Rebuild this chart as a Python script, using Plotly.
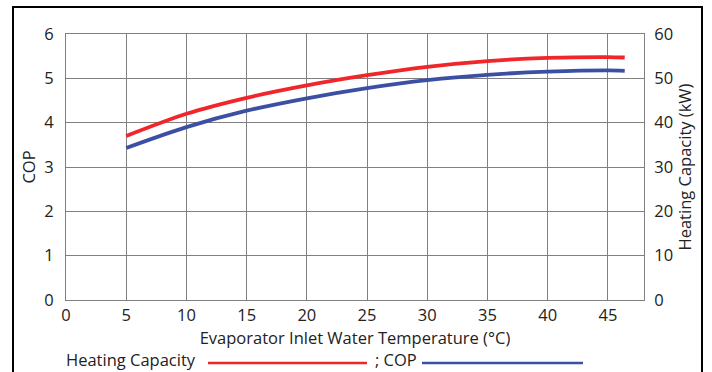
import plotly.graph_objects as go

temps = [5, 10, 15, 20, 25, 30, 35, 40, 45, 46.4]
heating_kw = [37.0, 42.0, 45.6, 48.4, 50.7, 52.6, 53.9, 54.6, 54.8, 54.7]
cop = [3.43, 3.90, 4.27, 4.55, 4.78, 4.96, 5.08, 5.15, 5.18, 5.17]

x_ticks = [0, 5, 10, 15, 20, 25, 30, 35, 40, 45]
cop_ticks = [0, 1, 2, 3, 4, 5, 6]
kw_ticks = [0, 10, 20, 30, 40, 50, 60]

RED = "#F0262B"
BLUE = "#3C50A3"
GRID = "#808080"
FONT = "Open Sans"

W, H = 712, 372
L, R, T, B = 66, 644, 34, 300
pw, ph = R - L, B - T

def px(x):
    return (x - L) / pw

def py(y):
    return (B - y) / ph

fig = go.Figure()
fig.add_trace(go.Scatter(x=temps, y=heating_kw, mode="lines", yaxis="y2",
                         line=dict(color=RED, width=3.8, shape="spline", smoothing=0.8),
                         name="Heating Capacity", showlegend=False))
fig.add_trace(go.Scatter(x=temps, y=cop, mode="lines",
                         line=dict(color=BLUE, width=3.8, shape="spline", smoothing=0.8),
                         name="COP", showlegend=False))

axis_font = dict(family=FONT, size=16.5, color="#222")
fig.update_layout(
    width=W, height=H,
    margin=dict(l=L, r=W - R, t=T, b=H - B),
    paper_bgcolor="white", plot_bgcolor="white",
    font=dict(family=FONT, size=16.5, color="#222"),
    xaxis=dict(range=[0, 48], tickvals=x_ticks, ticktext=[str(v) for v in x_ticks],
               showgrid=True, gridcolor=GRID, gridwidth=1, zeroline=False,
               showline=True, linecolor=GRID, linewidth=1, mirror=True,
               ticks="", tickfont=axis_font,
               title=dict(text="Evaporator Inlet Water Temperature (°C)", font=axis_font, standoff=0)),
    yaxis=dict(range=[0, 6], tickvals=cop_ticks, showgrid=True, gridcolor=GRID, gridwidth=1,
               zeroline=False, showline=True, linecolor=GRID, linewidth=1,
               ticks="", tickfont=axis_font, ticklabelstandoff=8,
               title=dict(text="COP", font=axis_font, standoff=4)),
    yaxis2=dict(range=[0, 60], tickvals=kw_ticks, overlaying="y", side="right",
                showgrid=False, zeroline=False, showline=True, linecolor=GRID, linewidth=1,
                ticks="", tickfont=axis_font, ticklabelstandoff=6,
                title=dict(text="Heating Capacity (kW)", font=axis_font, standoff=0)),
)

# legend row (drawn manually)
leg_y = py(360)
line_y = py(363)
fig.add_annotation(x=px(64), y=leg_y, xref="paper", yref="paper", text="Heating Capacity",
                   showarrow=False, xanchor="left", yanchor="middle", font=axis_font)
fig.add_shape(type="line", xref="paper", yref="paper", x0=px(208), x1=px(367),
              y0=line_y, y1=line_y, line=dict(color=RED, width=2.5))
fig.add_annotation(x=px(373), y=leg_y, xref="paper", yref="paper", text="; COP",
                   showarrow=False, xanchor="left", yanchor="middle", font=axis_font)
fig.add_shape(type="line", xref="paper", yref="paper", x0=px(422), x1=px(583),
              y0=line_y, y1=line_y, line=dict(color=BLUE, width=2.5))

# outer frame
fig.add_shape(type="rect", xref="paper", yref="paper", x0=px(13), x1=px(702),
              y0=py(390), y1=py(7), line=dict(color="black", width=2), layer="above")

fig.write_html("out.html")
